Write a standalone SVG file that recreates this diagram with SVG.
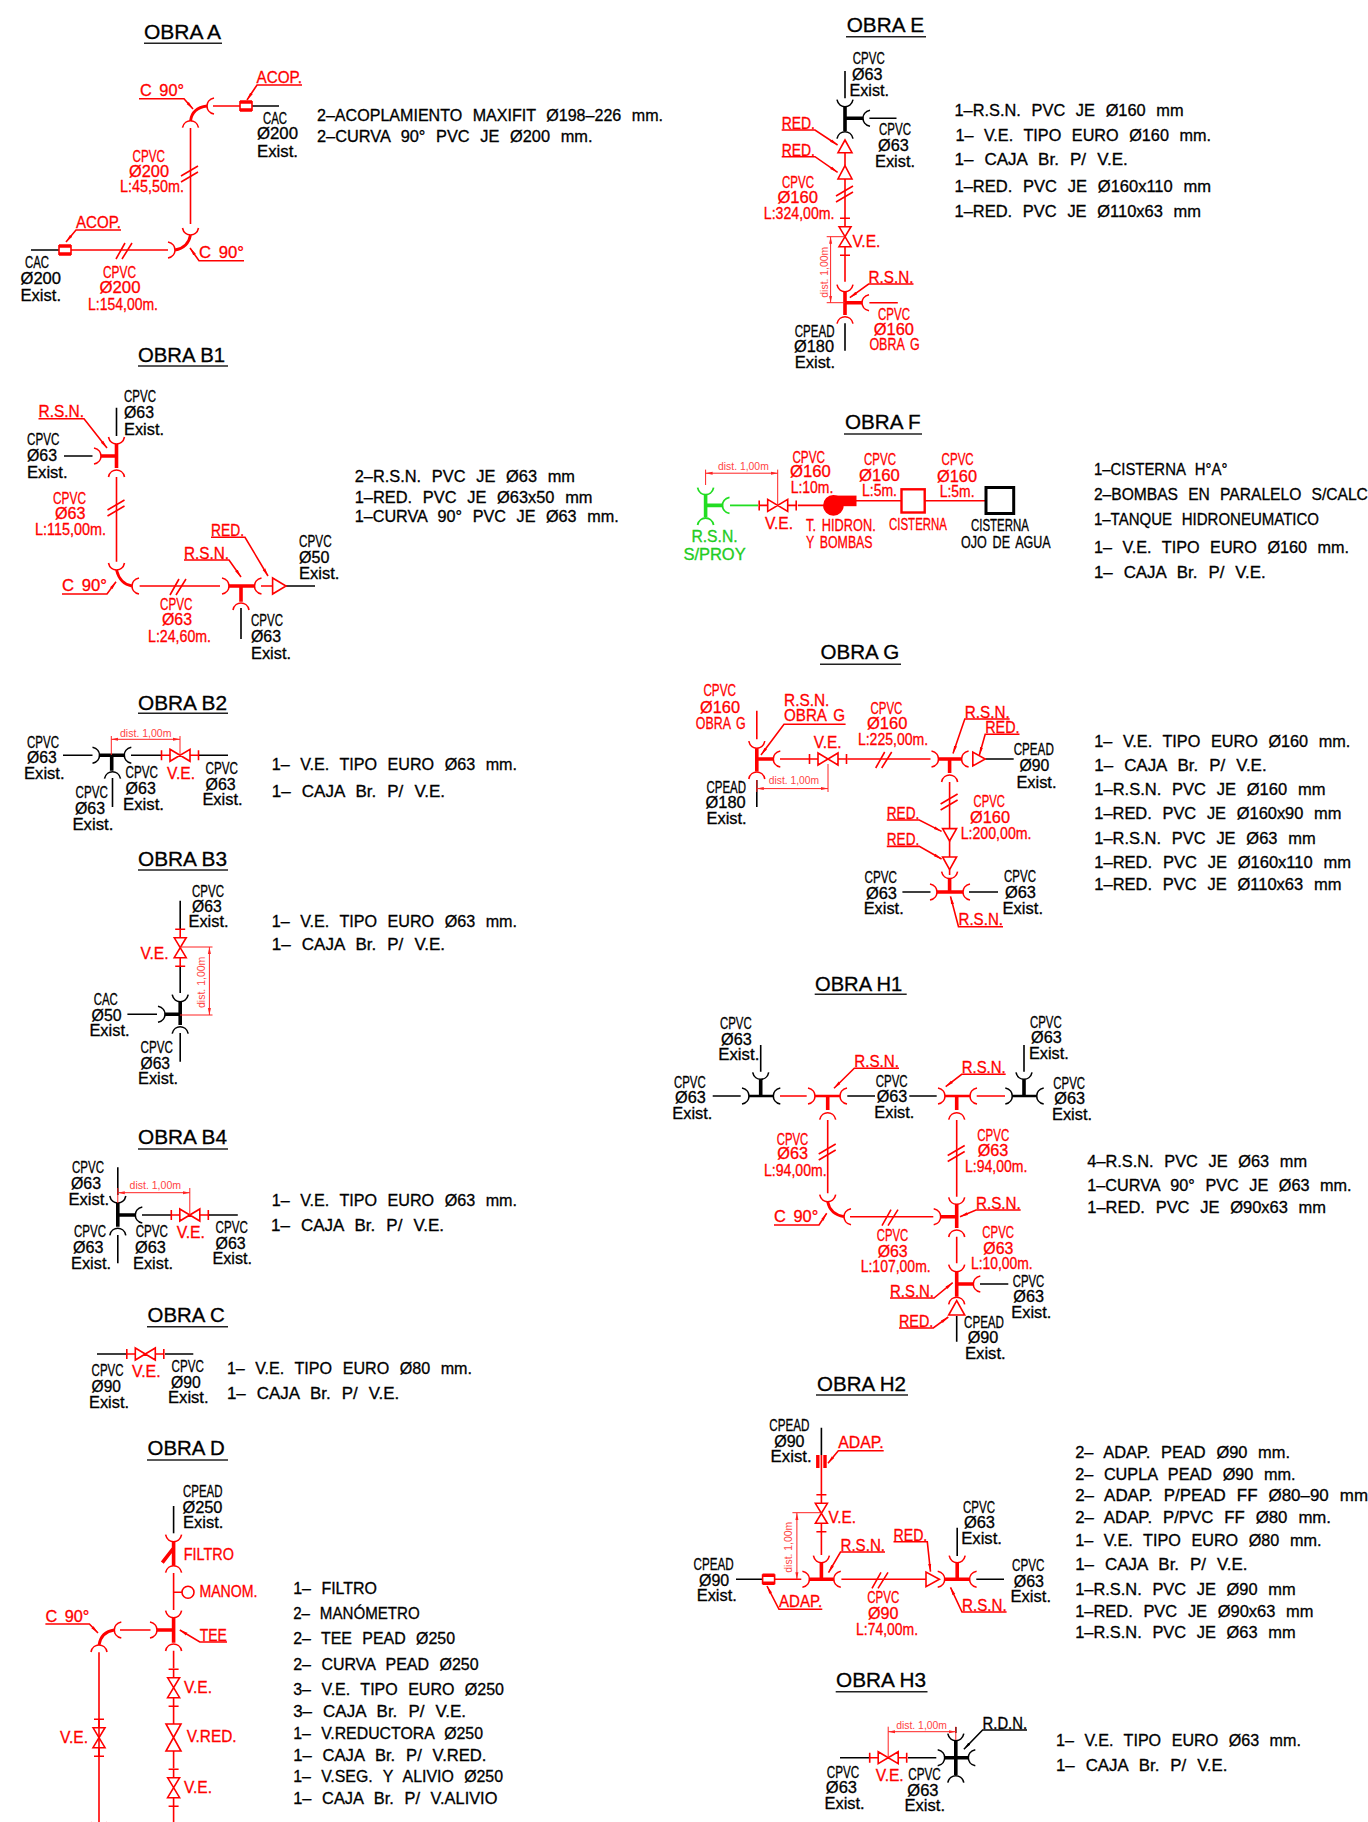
<svg xmlns="http://www.w3.org/2000/svg" width="1368" height="1822" viewBox="0 0 1368 1822">
<style>
text{font-family:"Liberation Sans",Arial,sans-serif;font-size:16px;stroke-width:.3px;word-spacing:3px}
.T{font-size:20px;stroke:none;word-spacing:0}
.q{word-spacing:6px}
.dt{font-size:10px;fill:#f44;stroke:none;word-spacing:0}
.tk{fill:#000;stroke:#000}.tr{fill:#f00;stroke:#f00}.tg{fill:#2c2;stroke:#2c2}
path,line,use,circle,rect,polygon{fill:none}
.r{stroke:#f00;stroke-width:1.6}.k{stroke:#000;stroke-width:1.6}.g{stroke:#2d2;stroke-width:1.8}
.t{stroke-width:3.6}.e{stroke-width:2.8}
.u{stroke:#222;stroke-width:1.6}
.d{stroke:#f22;stroke-width:1}
.dm{marker-start:url(#da);marker-end:url(#da)}
.ld{marker-end:url(#ah)}.lk{marker-end:url(#ak)}
</style>
<defs>
<marker id="ah" markerUnits="userSpaceOnUse" markerWidth="10" markerHeight="6" refX="8" refY="3" orient="auto"><path d="M0,1.5L8,3L0,4.5Z" style="fill:#f00"/></marker>
<marker id="ak" markerUnits="userSpaceOnUse" markerWidth="10" markerHeight="6" refX="8" refY="3" orient="auto"><path d="M0,1.5L8,3L0,4.5Z" style="fill:#000"/></marker>
<marker id="da" markerUnits="userSpaceOnUse" markerWidth="8" markerHeight="6" refX="7" refY="3" orient="auto-start-reverse"><path d="M0,1.5L7,3L0,4.5Z" style="fill:#f22"/></marker>
<path id="sr" d="M7,-8C2,-7 0,-3 0,0C0,3 2,7 7,8"/>
<path id="sl" d="M-7,-8C-2,-7 0,-3 0,0C0,3 -2,7 -7,8"/>
<path id="sd" d="M-8,7C-7,2 -3,0 0,0C3,0 7,2 8,7"/>
<path id="su" d="M-8,-7C-7,-2 -3,0 0,0C3,0 7,-2 8,-7"/>
<path id="vh" d="M-10,-6L10,6V-6L-10,6ZM-18.5,-5V5M18.5,-5V5M-18.5,0H-10M10,0H18.5"/>
<path id="vv" d="M-6,-10L6,10H-6L6,-10ZM-5,-18.5H5M-5,18.5H5M0,-18.5V-10M0,10V18.5"/>
<path id="bh" d="M-8,9L1,-7M-2,9L8,-7"/>
<path id="bv" d="M-9,2L8,-8M-9,8L8,-2"/>
<g id="c"><path d="M-6,-4H6M-6,4H6" stroke-width="3.6"/><path d="M-6,-5V5M6,-5V5"/></g>
</defs>

<g id="obra-a">
<text class="T tk" x="144" y="39.3" textLength="77" lengthAdjust="spacingAndGlyphs">OBRA A</text><path class="u" d="M144,43.3H222"/>
<g class="k"><path d="M252,106H279M31,250H59"/></g>
<g class="r"><path d="M213,106H240M190.5,128V224M168,250H71"/><use href="#sr" x="207" y="106"/><use href="#sd" x="190.5" y="120.7"/><use href="#su" x="190.5" y="235"/><use href="#sl" x="175" y="250"/><use href="#bv" x="190" y="174"/><use href="#bh" x="124" y="250"/><use href="#c" x="246" y="106"/><use href="#c" x="65" y="250"/><path class="e" d="M190.5,121Q192,108 207,106M190.5,235Q188,248 175,250"/>
<path class="ld" d="M139,98.7H184L193,109"/><path class="ld" d="M244,260.7H199L190,248"/><path class="ld" d="M302,85H257L247,100"/><path class="ld" d="M121,230H76L66,242"/></g>
<g class="tr"><text x="140" y="96" textLength="44" lengthAdjust="spacingAndGlyphs">C 90°</text><text x="199" y="257.7" textLength="45" lengthAdjust="spacingAndGlyphs">C 90°</text><text x="256.5" y="82.7" textLength="45.5" lengthAdjust="spacingAndGlyphs">ACOP.</text><text x="76" y="228.3" textLength="45" lengthAdjust="spacingAndGlyphs">ACOP.</text>
<text x="132.6" y="161.7" textLength="32.4" lengthAdjust="spacingAndGlyphs">CPVC</text><text x="129" y="176.7" textLength="40" lengthAdjust="spacingAndGlyphs">Ø200</text><text x="120" y="192.3" textLength="64" lengthAdjust="spacingAndGlyphs">L:45,50m.</text>
<text x="103" y="278.3" textLength="33" lengthAdjust="spacingAndGlyphs">CPVC</text><text x="99.5" y="293.3" textLength="41" lengthAdjust="spacingAndGlyphs">Ø200</text><text x="88" y="310" textLength="70" lengthAdjust="spacingAndGlyphs">L:154,00m.</text></g>
<g class="tk"><text x="263" y="124" textLength="24" lengthAdjust="spacingAndGlyphs">CAC</text><text x="257" y="139.3" textLength="41" lengthAdjust="spacingAndGlyphs">Ø200</text><text x="257" y="156.7" textLength="41" lengthAdjust="spacingAndGlyphs">Exist.</text>
<text x="25" y="268" textLength="24" lengthAdjust="spacingAndGlyphs">CAC</text><text x="20.5" y="284" textLength="40.5" lengthAdjust="spacingAndGlyphs">Ø200</text><text x="20.5" y="301" textLength="40.5" lengthAdjust="spacingAndGlyphs">Exist.</text>
<text class="q" x="317" y="120.7" textLength="346" lengthAdjust="spacingAndGlyphs">2–ACOPLAMIENTO MAXIFIT Ø198–226 mm.</text><text class="q" x="317" y="141.7" textLength="275.5" lengthAdjust="spacingAndGlyphs">2–CURVA 90° PVC JE Ø200 mm.</text></g>
</g>

<g id="obra-b1">
<text class="T tk" x="138" y="361.7" textLength="87" lengthAdjust="spacingAndGlyphs">OBRA B1</text><path class="u" d="M138,366H228"/>
<g class="k"><path d="M116.5,407.7V436M64,456H92.5M241,608V639M286,586H315"/></g>
<g class="r"><path d="M116.5,477V561.7M139.6,586H220M261,586H272.6"/><use href="#su" x="116.5" y="444"/><use href="#sl" x="101" y="456"/><use href="#sd" x="116.5" y="470"/><use href="#su" x="116.5" y="570"/><use href="#sr" x="132" y="586"/><use href="#sl" x="229" y="586"/><use href="#sd" x="241" y="603"/><use href="#sr" x="254.5" y="586"/><use href="#bv" x="116.5" y="508"/><use href="#bh" x="178" y="586"/>
<path class="t" d="M116.5,444V468M116.5,456H101M229,586H254M241,586V601.7"/><path class="e" d="M116.5,570Q120,584 132,586"/><polygon points="272.6,578 272.6,594 286,586"/>
<path class="ld" d="M38.5,418.7H84L107,448"/><path class="ld" d="M62,594H107L116,581.7"/><path class="ld" d="M184,560H229L241,577"/><path class="ld" d="M211,537.3H245L268,576"/></g>
<g class="tr"><text x="38.5" y="417.3" textLength="45.5" lengthAdjust="spacingAndGlyphs">R.S.N.</text><text x="62" y="590.7" textLength="45" lengthAdjust="spacingAndGlyphs">C 90°</text><text x="184" y="559" textLength="45" lengthAdjust="spacingAndGlyphs">R.S.N.</text><text x="211" y="536" textLength="33" lengthAdjust="spacingAndGlyphs">RED.</text>
<text x="53" y="504" textLength="33" lengthAdjust="spacingAndGlyphs">CPVC</text><text x="55" y="519" textLength="30.5" lengthAdjust="spacingAndGlyphs">Ø63</text><text x="35" y="535.3" textLength="71" lengthAdjust="spacingAndGlyphs">L:115,00m.</text>
<text x="160" y="610" textLength="32.4" lengthAdjust="spacingAndGlyphs">CPVC</text><text x="162" y="625" textLength="30" lengthAdjust="spacingAndGlyphs">Ø63</text><text x="148" y="641.7" textLength="63" lengthAdjust="spacingAndGlyphs">L:24,60m.</text></g>
<g class="tk"><text x="124" y="401.7" textLength="32" lengthAdjust="spacingAndGlyphs">CPVC</text><text x="124" y="417.7" textLength="30" lengthAdjust="spacingAndGlyphs">Ø63</text><text x="124" y="435" textLength="40" lengthAdjust="spacingAndGlyphs">Exist.</text>
<text x="27" y="445" textLength="32.3" lengthAdjust="spacingAndGlyphs">CPVC</text><text x="27" y="460.7" textLength="30" lengthAdjust="spacingAndGlyphs">Ø63</text><text x="27" y="477.7" textLength="40.6" lengthAdjust="spacingAndGlyphs">Exist.</text>
<text x="299" y="546.7" textLength="32.6" lengthAdjust="spacingAndGlyphs">CPVC</text><text x="299" y="562.7" textLength="30.4" lengthAdjust="spacingAndGlyphs">Ø50</text><text x="299" y="579.3" textLength="40.4" lengthAdjust="spacingAndGlyphs">Exist.</text>
<text x="251" y="626" textLength="32" lengthAdjust="spacingAndGlyphs">CPVC</text><text x="251" y="641.7" textLength="30" lengthAdjust="spacingAndGlyphs">Ø63</text><text x="251" y="659" textLength="40" lengthAdjust="spacingAndGlyphs">Exist.</text>
<text class="q" x="354.7" y="481.7" textLength="220.3" lengthAdjust="spacingAndGlyphs">2–R.S.N. PVC JE Ø63 mm</text><text class="q" x="354.7" y="502.7" textLength="237.8" lengthAdjust="spacingAndGlyphs">1–RED. PVC JE Ø63x50 mm</text><text class="q" x="354.7" y="522" textLength="264" lengthAdjust="spacingAndGlyphs">1–CURVA 90° PVC JE Ø63 mm.</text></g>
</g>

<g id="obra-b2">
<text class="T tk" x="138" y="710" textLength="89" lengthAdjust="spacingAndGlyphs">OBRA B2</text><path class="u" d="M138,713.3H228"/>
<g class="k"><path d="M63,755.3H92.5M112.5,778V807M131,755.3H161M198.5,755.3H228"/><use href="#sl" x="99.5" y="755.3"/><use href="#sd" x="112.5" y="771.7"/><use href="#sr" x="124.3" y="755.3"/><path class="t" d="M99.5,755.3H124.3M111.7,755.3V770.7"/></g>
<g class="r"><use href="#vh" x="180" y="755.3"/></g>
<g class="d"><path class="dm" d="M111.3,739.3H180"/><path d="M111.3,736V755M180,736V755"/></g>
<text class="dt" x="120" y="736.7" textLength="51.5" lengthAdjust="spacingAndGlyphs">dist. 1,00m</text>
<g class="tr"><text x="167" y="779" textLength="28" lengthAdjust="spacingAndGlyphs">V.E.</text></g>
<g class="tk"><text x="27" y="747.7" textLength="32" lengthAdjust="spacingAndGlyphs">CPVC</text><text x="27" y="763.3" textLength="29.7" lengthAdjust="spacingAndGlyphs">Ø63</text><text x="24" y="779" textLength="40.6" lengthAdjust="spacingAndGlyphs">Exist.</text>
<text x="125.6" y="778.3" textLength="32.4" lengthAdjust="spacingAndGlyphs">CPVC</text><text x="125.6" y="794.3" textLength="30.2" lengthAdjust="spacingAndGlyphs">Ø63</text><text x="123" y="810" textLength="41" lengthAdjust="spacingAndGlyphs">Exist.</text>
<text x="75.5" y="798.3" textLength="32.3" lengthAdjust="spacingAndGlyphs">CPVC</text><text x="75" y="814" textLength="30" lengthAdjust="spacingAndGlyphs">Ø63</text><text x="72.4" y="829.7" textLength="41" lengthAdjust="spacingAndGlyphs">Exist.</text>
<text x="205.5" y="774" textLength="32.5" lengthAdjust="spacingAndGlyphs">CPVC</text><text x="205.5" y="790" textLength="30.1" lengthAdjust="spacingAndGlyphs">Ø63</text><text x="202.4" y="805.3" textLength="40.2" lengthAdjust="spacingAndGlyphs">Exist.</text>
<text class="q" x="271.8" y="770" textLength="245.2" lengthAdjust="spacingAndGlyphs">1– V.E. TIPO EURO Ø63 mm.</text><text class="q" x="271.8" y="796.7" textLength="173.2" lengthAdjust="spacingAndGlyphs">1– CAJA Br. P/ V.E.</text></g>
</g>

<g id="obra-b3">
<text class="T tk" x="138" y="865.7" textLength="89" lengthAdjust="spacingAndGlyphs">OBRA B3</text><path class="u" d="M138,870H228"/>
<g class="k"><path d="M180.2,900.7V929M180.2,966.7V993M180.2,1033V1061.7M127.4,1014.3H157"/><use href="#su" x="180.2" y="1001.7"/><use href="#sd" x="180.2" y="1026.7"/><use href="#sl" x="165" y="1014.3"/><path class="t" d="M180.2,1001.7V1025M180.2,1014.3H165"/></g>
<g class="r"><use href="#vv" x="180.2" y="947.7"/></g>
<g class="d"><path class="dm" d="M209.4,947V1015"/><path d="M180,947H212.5M180,1015H212.5"/></g>
<text class="dt" transform="translate(205,1008) rotate(-90)" x="0" y="0" textLength="51.3" lengthAdjust="spacingAndGlyphs">dist. 1,00m</text>
<g class="tr"><text x="140.5" y="958.7" textLength="28" lengthAdjust="spacingAndGlyphs">V.E.</text></g>
<g class="tk"><text x="192" y="896.7" textLength="32" lengthAdjust="spacingAndGlyphs">CPVC</text><text x="192" y="912" textLength="29.6" lengthAdjust="spacingAndGlyphs">Ø63</text><text x="188.5" y="927.3" textLength="40" lengthAdjust="spacingAndGlyphs">Exist.</text>
<text x="93.8" y="1005" textLength="24" lengthAdjust="spacingAndGlyphs">CAC</text><text x="91.6" y="1020.7" textLength="30" lengthAdjust="spacingAndGlyphs">Ø50</text><text x="89.4" y="1036" textLength="40.2" lengthAdjust="spacingAndGlyphs">Exist.</text>
<text x="140.5" y="1053.3" textLength="32.3" lengthAdjust="spacingAndGlyphs">CPVC</text><text x="140.5" y="1069.3" textLength="29.5" lengthAdjust="spacingAndGlyphs">Ø63</text><text x="138" y="1084" textLength="40" lengthAdjust="spacingAndGlyphs">Exist.</text>
<text class="q" x="271.8" y="926.7" textLength="245.2" lengthAdjust="spacingAndGlyphs">1– V.E. TIPO EURO Ø63 mm.</text><text class="q" x="271.8" y="950" textLength="173.2" lengthAdjust="spacingAndGlyphs">1– CAJA Br. P/ V.E.</text></g>
</g>

<g id="obra-b4">
<text class="T tk" x="138" y="1144.3" textLength="89" lengthAdjust="spacingAndGlyphs">OBRA B4</text><path class="u" d="M138,1149H228"/>
<g class="k"><path d="M117.8,1167.3V1195M142,1215H171M208.3,1215H237.8M117.8,1235V1263.3"/><use href="#su" x="117.8" y="1203"/><use href="#sr" x="135.3" y="1215"/><use href="#sd" x="117.8" y="1228.3"/><path class="t" d="M117.8,1203V1226.7M117.8,1215H135.3"/></g>
<g class="r"><use href="#vh" x="189.8" y="1215"/></g>
<g class="d"><path class="dm" d="M117.8,1192.7H189.8"/><path d="M117.8,1188V1203M189.8,1188V1215"/></g>
<text class="dt" x="129.6" y="1189.3" textLength="51.4" lengthAdjust="spacingAndGlyphs">dist. 1,00m</text>
<g class="tr"><text x="176.7" y="1238.3" textLength="28.3" lengthAdjust="spacingAndGlyphs">V.E.</text></g>
<g class="tk"><text x="72" y="1173.3" textLength="32" lengthAdjust="spacingAndGlyphs">CPVC</text><text x="71" y="1189.3" textLength="30" lengthAdjust="spacingAndGlyphs">Ø63</text><text x="68.5" y="1205" textLength="40.5" lengthAdjust="spacingAndGlyphs">Exist.</text>
<text x="74" y="1237.3" textLength="32" lengthAdjust="spacingAndGlyphs">CPVC</text><text x="73" y="1253.3" textLength="30.4" lengthAdjust="spacingAndGlyphs">Ø63</text><text x="71" y="1269" textLength="40" lengthAdjust="spacingAndGlyphs">Exist.</text>
<text x="135.7" y="1237.3" textLength="32.3" lengthAdjust="spacingAndGlyphs">CPVC</text><text x="135" y="1253.3" textLength="30.8" lengthAdjust="spacingAndGlyphs">Ø63</text><text x="133" y="1269" textLength="40" lengthAdjust="spacingAndGlyphs">Exist.</text>
<text x="215.5" y="1233.3" textLength="32.3" lengthAdjust="spacingAndGlyphs">CPVC</text><text x="215.5" y="1249" textLength="30.1" lengthAdjust="spacingAndGlyphs">Ø63</text><text x="212.5" y="1264.3" textLength="39.5" lengthAdjust="spacingAndGlyphs">Exist.</text>
<text class="q" x="271.8" y="1205.7" textLength="245.2" lengthAdjust="spacingAndGlyphs">1– V.E. TIPO EURO Ø63 mm.</text><text class="q" x="271" y="1230.7" textLength="173" lengthAdjust="spacingAndGlyphs">1– CAJA Br. P/ V.E.</text></g>
</g>

<g id="obra-c">
<text class="T tk" x="147.5" y="1322.3" textLength="77.2" lengthAdjust="spacingAndGlyphs">OBRA C</text><path class="u" d="M147,1326.7H228"/>
<g class="k"><path d="M97,1354H126M165,1354H193.3"/></g>
<g class="r"><use href="#vh" x="145.3" y="1354"/></g>
<g class="tr"><text x="132" y="1376.7" textLength="28.6" lengthAdjust="spacingAndGlyphs">V.E.</text></g>
<g class="tk"><text x="91.6" y="1376" textLength="31.9" lengthAdjust="spacingAndGlyphs">CPVC</text><text x="91.6" y="1392" textLength="29.3" lengthAdjust="spacingAndGlyphs">Ø90</text><text x="89" y="1407.7" textLength="40" lengthAdjust="spacingAndGlyphs">Exist.</text>
<text x="171.5" y="1371.7" textLength="32.3" lengthAdjust="spacingAndGlyphs">CPVC</text><text x="171" y="1387.7" textLength="29.7" lengthAdjust="spacingAndGlyphs">Ø90</text><text x="168" y="1403.3" textLength="40.6" lengthAdjust="spacingAndGlyphs">Exist.</text>
<text class="q" x="226.9" y="1374.3" textLength="245.1" lengthAdjust="spacingAndGlyphs">1– V.E. TIPO EURO Ø80 mm.</text><text class="q" x="226.9" y="1399.3" textLength="172.3" lengthAdjust="spacingAndGlyphs">1– CAJA Br. P/ V.E.</text></g>
</g>

<g id="obra-d">
<text class="T tk" x="147.5" y="1455" textLength="77.2" lengthAdjust="spacingAndGlyphs">OBRA D</text><path class="u" d="M147,1460H228"/>
<g class="k"><path d="M173.6,1506V1533.3"/></g>
<g class="r"><use href="#su" x="173.6" y="1541.7"/><use href="#sd" x="173.6" y="1565.7"/><path d="M173.6,1573V1610M173.6,1592.3H182M120,1630H150.5M99,1652.3V1822M173.6,1650.7V1668.3M173.6,1706.7V1724M173.6,1751V1768.3M173.6,1806.7V1822"/><circle cx="188" cy="1592.3" r="6"/><use href="#su" x="173.6" y="1617.7"/><use href="#sd" x="173.6" y="1644"/><use href="#sl" x="157" y="1630"/><use href="#sr" x="114.3" y="1630"/><use href="#sd" x="99" y="1645"/><use href="#su" x="99" y="1829"/>
<path class="t" d="M173.6,1541.7V1565.7M173.6,1548L162.3,1562.7M173.6,1617.7V1642.7M173.6,1630H157"/><path class="e" d="M114.3,1630Q101,1632 99,1645"/>
<use href="#vv" x="99" y="1737.7"/><use href="#vv" x="173.6" y="1687.7"/><use href="#vv" x="173.6" y="1787.7"/><path d="M166,1724H181L166,1751H181Z"/>
<path class="ld" d="M45.4,1624H89.4L98,1633"/><path class="ld" d="M227,1642H199.8L179.8,1630"/></g>
<g class="tr"><text x="183.7" y="1560" textLength="50.2" lengthAdjust="spacingAndGlyphs">FILTRO</text><text x="199.4" y="1597.3" textLength="58" lengthAdjust="spacingAndGlyphs">MANOM.</text><text x="45.4" y="1621.7" textLength="44" lengthAdjust="spacingAndGlyphs">C 90°</text><text x="199.8" y="1640.7" textLength="27.1" lengthAdjust="spacingAndGlyphs">TEE</text><text x="184" y="1693.3" textLength="28" lengthAdjust="spacingAndGlyphs">V.E.</text><text x="186.7" y="1741.7" textLength="49.8" lengthAdjust="spacingAndGlyphs">V.RED.</text><text x="184" y="1793.3" textLength="28" lengthAdjust="spacingAndGlyphs">V.E.</text><text x="60" y="1743.3" textLength="28" lengthAdjust="spacingAndGlyphs">V.E.</text></g>
<g class="tk"><text x="183" y="1497.3" textLength="39.5" lengthAdjust="spacingAndGlyphs">CPEAD</text><text x="182.4" y="1512.7" textLength="40.1" lengthAdjust="spacingAndGlyphs">Ø250</text><text x="183" y="1528.3" textLength="40.4" lengthAdjust="spacingAndGlyphs">Exist.</text>
<text class="q" x="293.2" y="1594" textLength="83.8" lengthAdjust="spacingAndGlyphs">1– FILTRO</text><text class="q" x="293.2" y="1619" textLength="126.5" lengthAdjust="spacingAndGlyphs">2– MANÓMETRO</text><text class="q" x="293.2" y="1644.3" textLength="161.8" lengthAdjust="spacingAndGlyphs">2– TEE PEAD Ø250</text><text class="q" x="293.2" y="1670" textLength="185.4" lengthAdjust="spacingAndGlyphs">2– CURVA PEAD Ø250</text><text class="q" x="293.2" y="1695.3" textLength="210.8" lengthAdjust="spacingAndGlyphs">3– V.E. TIPO EURO Ø250</text><text class="q" x="293.2" y="1717.3" textLength="172.8" lengthAdjust="spacingAndGlyphs">3– CAJA Br. P/ V.E.</text><text class="q" x="293.2" y="1739" textLength="189.8" lengthAdjust="spacingAndGlyphs">1– V.REDUCTORA Ø250</text><text class="q" x="293.2" y="1760.7" textLength="193.3" lengthAdjust="spacingAndGlyphs">1– CAJA Br. P/ V.RED.</text><text class="q" x="293.2" y="1782.3" textLength="209.8" lengthAdjust="spacingAndGlyphs">1– V.SEG. Y ALIVIO Ø250</text><text class="q" x="293.2" y="1804.3" textLength="204.2" lengthAdjust="spacingAndGlyphs">1– CAJA Br. P/ V.ALIVIO</text></g>
</g>

<g id="obra-e">
<text class="T tk" x="846.7" y="32.3" textLength="77.3" lengthAdjust="spacingAndGlyphs">OBRA E</text><path class="u" d="M846,36.7H926"/>
<g class="k"><path d="M845,71V98.3M869.4,118.3H896.5M845,323.3V350.7"/><use href="#su" x="845" y="106.7"/><use href="#sr" x="863" y="118.3"/><use href="#sd" x="845" y="131.7"/><path class="t" d="M845,106.7V131M845,118.3H863"/></g>
<g class="r"><polygon points="845,140 838,152.7 852,152.7"/><polygon points="845,165.7 838,179 852,179"/><path d="M845,152.7V165.7M845,179V218M845,255.7V281.7M869.4,302.7H897.8"/><use href="#bv" x="845" y="194"/><use href="#vv" x="845" y="236.7"/><use href="#su" x="845" y="291.7"/><use href="#sr" x="862" y="302.7"/><use href="#sd" x="845" y="316.7"/><path class="t" d="M845,291.7V315M845,302.7H862"/>
<path class="ld" d="M781.7,130H815L837.6,145"/><path class="ld" d="M781.7,156.7H815L837.6,172.3"/><path class="ld" d="M913.5,284H868.6L849.8,297.7"/></g>
<g class="d"><path class="dm" d="M830.6,236.7V302.7"/><path d="M826.7,236.7H845M826.7,302.7H845"/></g>
<text class="dt" transform="translate(827.5,297.7) rotate(-90)" x="0" y="0" textLength="51" lengthAdjust="spacingAndGlyphs">dist. 1,00m</text>
<g class="tr"><text x="781.7" y="129" textLength="33.3" lengthAdjust="spacingAndGlyphs">RED.</text><text x="781.7" y="155.7" textLength="33.3" lengthAdjust="spacingAndGlyphs">RED.</text>
<text x="782" y="188.3" textLength="32" lengthAdjust="spacingAndGlyphs">CPVC</text><text x="777.4" y="203.3" textLength="40.6" lengthAdjust="spacingAndGlyphs">Ø160</text><text x="763.8" y="219.3" textLength="70.7" lengthAdjust="spacingAndGlyphs">L:324,00m.</text>
<text x="852.4" y="247.3" textLength="27.9" lengthAdjust="spacingAndGlyphs">V.E.</text><text x="868.6" y="282.7" textLength="44.9" lengthAdjust="spacingAndGlyphs">R.S.N.</text>
<text x="878" y="320" textLength="32" lengthAdjust="spacingAndGlyphs">CPVC</text><text x="873.8" y="335" textLength="40.2" lengthAdjust="spacingAndGlyphs">Ø160</text><text x="869.4" y="350" textLength="50.2" lengthAdjust="spacingAndGlyphs">OBRA G</text></g>
<g class="tk"><text x="852.8" y="64.3" textLength="31.9" lengthAdjust="spacingAndGlyphs">CPVC</text><text x="852" y="80" textLength="30.5" lengthAdjust="spacingAndGlyphs">Ø63</text><text x="849.4" y="95.7" textLength="39.6" lengthAdjust="spacingAndGlyphs">Exist.</text>
<text x="879" y="135" textLength="32" lengthAdjust="spacingAndGlyphs">CPVC</text><text x="878" y="151" textLength="30.7" lengthAdjust="spacingAndGlyphs">Ø63</text><text x="875" y="166.7" textLength="40" lengthAdjust="spacingAndGlyphs">Exist.</text>
<text x="794.8" y="336.7" textLength="39.7" lengthAdjust="spacingAndGlyphs">CPEAD</text><text x="794" y="352.3" textLength="40" lengthAdjust="spacingAndGlyphs">Ø180</text><text x="794.8" y="367.7" textLength="40.2" lengthAdjust="spacingAndGlyphs">Exist.</text>
<text class="q" x="954.5" y="116" textLength="229.1" lengthAdjust="spacingAndGlyphs">1–R.S.N. PVC JE Ø160 mm</text><text class="q" x="955.4" y="140.7" textLength="255.6" lengthAdjust="spacingAndGlyphs">1– V.E. TIPO EURO Ø160 mm.</text><text class="q" x="954.5" y="165" textLength="173.2" lengthAdjust="spacingAndGlyphs">1– CAJA Br. P/ V.E.</text><text class="q" x="954.5" y="192.3" textLength="256.5" lengthAdjust="spacingAndGlyphs">1–RED. PVC JE Ø160x110 mm</text><text class="q" x="954.5" y="217.3" textLength="246.5" lengthAdjust="spacingAndGlyphs">1–RED. PVC JE Ø110x63 mm</text></g>
</g>

<g id="obra-f">
<text class="T tk" x="845" y="429.3" textLength="75.7" lengthAdjust="spacingAndGlyphs">OBRA F</text><path class="u" d="M844,434H922"/>
<g class="g"><use href="#su" x="705.6" y="494.6"/><use href="#sd" x="705.6" y="518"/><use href="#sr" x="722.5" y="505.4"/><path d="M730,505.4H758"/><path class="t" d="M705.6,494.6V517M705.6,505.4H722.5"/></g>
<g class="r"><use href="#vh" x="777.7" y="505.4"/><path d="M797.8,505.4H824M855.7,500.7H901.5M924.7,500.7H985.2"/><circle cx="833.4" cy="505.4" r="9.5" style="fill:#f00"/><rect x="833.4" y="496.4" width="22.3" height="9" style="fill:#f00"/><rect x="901.5" y="489.3" width="23.2" height="23.2" stroke-width="2.4"/></g>
<g class="k"><rect x="986" y="487.5" width="27.7" height="26" stroke-width="3"/></g>
<g class="d"><path class="dm" d="M705.6,473.2H777.7"/><path d="M705.6,469.6V485M777.7,469.6V505"/></g>
<text class="dt" x="718" y="469.6" textLength="50.8" lengthAdjust="spacingAndGlyphs">dist. 1,00m</text>
<g class="tr"><text x="792.4" y="462.5" textLength="32.6" lengthAdjust="spacingAndGlyphs">CPVC</text><text x="790" y="476.8" textLength="40.7" lengthAdjust="spacingAndGlyphs">Ø160</text><text x="790.7" y="492.9" textLength="42.7" lengthAdjust="spacingAndGlyphs">L:10m.</text>
<text x="864" y="465" textLength="32" lengthAdjust="spacingAndGlyphs">CPVC</text><text x="859" y="481.4" textLength="40.7" lengthAdjust="spacingAndGlyphs">Ø160</text><text x="862" y="496.4" textLength="35" lengthAdjust="spacingAndGlyphs">L:5m.</text>
<text x="941.6" y="465.4" textLength="32.1" lengthAdjust="spacingAndGlyphs">CPVC</text><text x="937" y="482" textLength="40" lengthAdjust="spacingAndGlyphs">Ø160</text><text x="939.8" y="497" textLength="34.7" lengthAdjust="spacingAndGlyphs">L:5m.</text>
<text x="765" y="529.3" textLength="28" lengthAdjust="spacingAndGlyphs">V.E.</text><text x="806" y="531.4" textLength="69.7" lengthAdjust="spacingAndGlyphs">T. HIDRON.</text><text x="806" y="547.5" textLength="66.6" lengthAdjust="spacingAndGlyphs">Y BOMBAS</text><text x="889" y="530.4" textLength="58" lengthAdjust="spacingAndGlyphs">CISTERNA</text></g>
<g class="tg"><text x="691.4" y="542" textLength="46.3" lengthAdjust="spacingAndGlyphs">R.S.N.</text><text x="683.4" y="559.6" textLength="62.3" lengthAdjust="spacingAndGlyphs">S/PROY</text></g>
<g class="tk"><text x="971" y="531" textLength="57.9" lengthAdjust="spacingAndGlyphs">CISTERNA</text><text x="961" y="547.5" textLength="89.7" lengthAdjust="spacingAndGlyphs">OJO DE AGUA</text>
<text class="q" x="1093.9" y="475" textLength="133.5" lengthAdjust="spacingAndGlyphs">1–CISTERNA H°A°</text><text class="q" x="1093.9" y="500" textLength="274" lengthAdjust="spacingAndGlyphs">2–BOMBAS EN PARALELO S/CALC</text><text class="q" x="1093.9" y="525" textLength="225.1" lengthAdjust="spacingAndGlyphs">1–TANQUE HIDRONEUMATICO</text><text class="q" x="1093.9" y="552.9" textLength="255.1" lengthAdjust="spacingAndGlyphs">1– V.E. TIPO EURO Ø160 mm.</text><text class="q" x="1093.9" y="577.9" textLength="171.8" lengthAdjust="spacingAndGlyphs">1– CAJA Br. P/ V.E.</text></g>
</g>

<g id="obra-g">
<text class="T tk" x="820.5" y="659" textLength="78.8" lengthAdjust="spacingAndGlyphs">OBRA G</text><path class="u" d="M820,664.3H901"/>
<g class="k"><path d="M756.8,780V807M902.4,892H930.5M969,892H998M985.2,759H1013.7"/></g>
<g class="r"><path d="M756.8,710.7V739.3M780,759H809M847.2,759H930.5M949.6,782V828.6M949.6,841V857M949.6,869.6V875"/><use href="#su" x="756.8" y="748.2"/><use href="#sd" x="756.8" y="772"/><use href="#sr" x="773.3" y="759"/><use href="#vh" x="828" y="759"/><use href="#bh" x="883.7" y="759"/><use href="#sl" x="938.5" y="759"/><use href="#sr" x="961.6" y="759"/><polygon points="972.8,752 972.8,766 985.2,759"/><use href="#sd" x="949.6" y="775"/><use href="#bv" x="949.6" y="802"/><polygon points="942.6,828.6 956.6,828.6 949.6,841"/><polygon points="942.6,857 956.6,857 949.6,869.6"/><use href="#su" x="949.6" y="878.6"/><use href="#sl" x="937" y="892"/><use href="#sr" x="963" y="892"/>
<path class="t" d="M756.8,748.2V771.4M756.8,759H773.3M938.5,759H961.6M949.6,759V773M949.6,878.6V892M937,892H963"/>
<path class="ld" d="M845.6,724.3H784L761,755"/><path class="ld" d="M1009.7,719H964.8L953,753.6"/><path class="ld" d="M1019.5,734.3H985.2L979.4,755"/><path class="ld" d="M886.8,820H919.3L941.6,831.4"/><path class="ld" d="M886.8,846.4H919.3L941.6,859"/><path class="ld" d="M1003,926.8H958.5L950.5,896.4"/></g>
<g class="d"><path class="dm" d="M756.8,788.6H828"/><path d="M756.8,780V792M828,764V792"/></g>
<text class="dt" x="768.8" y="784" textLength="50.2" lengthAdjust="spacingAndGlyphs">dist. 1,00m</text>
<g class="tr"><text x="703.4" y="696.4" textLength="32.6" lengthAdjust="spacingAndGlyphs">CPVC</text><text x="700" y="712.5" textLength="40" lengthAdjust="spacingAndGlyphs">Ø160</text><text x="695.8" y="729.3" textLength="49.9" lengthAdjust="spacingAndGlyphs">OBRA G</text>
<text x="784" y="706.4" textLength="45.4" lengthAdjust="spacingAndGlyphs">R.S.N.</text><text x="784" y="720.7" textLength="61" lengthAdjust="spacingAndGlyphs">OBRA G</text>
<text x="870.4" y="714.3" textLength="32" lengthAdjust="spacingAndGlyphs">CPVC</text><text x="867" y="728.6" textLength="40.3" lengthAdjust="spacingAndGlyphs">Ø160</text><text x="857.9" y="745.4" textLength="70.3" lengthAdjust="spacingAndGlyphs">L:225,00m.</text>
<text x="813.8" y="747.5" textLength="27.6" lengthAdjust="spacingAndGlyphs">V.E.</text><text x="964.8" y="717.9" textLength="44.9" lengthAdjust="spacingAndGlyphs">R.S.N.</text><text x="985.2" y="733" textLength="34.3" lengthAdjust="spacingAndGlyphs">RED.</text>
<text x="973.6" y="807" textLength="31.2" lengthAdjust="spacingAndGlyphs">CPVC</text><text x="970" y="822.5" textLength="40" lengthAdjust="spacingAndGlyphs">Ø160</text><text x="960.7" y="839.3" textLength="70.8" lengthAdjust="spacingAndGlyphs">L:200,00m.</text>
<text x="886.8" y="818.6" textLength="32.5" lengthAdjust="spacingAndGlyphs">RED.</text><text x="886.8" y="845" textLength="32.5" lengthAdjust="spacingAndGlyphs">RED.</text><text x="958.5" y="925" textLength="44.5" lengthAdjust="spacingAndGlyphs">R.S.N.</text></g>
<g class="tk"><text x="1013.7" y="755.4" textLength="40.1" lengthAdjust="spacingAndGlyphs">CPEAD</text><text x="1019.5" y="771.4" textLength="29.8" lengthAdjust="spacingAndGlyphs">Ø90</text><text x="1016.4" y="787.5" textLength="40.1" lengthAdjust="spacingAndGlyphs">Exist.</text>
<text x="706.5" y="792.9" textLength="39.5" lengthAdjust="spacingAndGlyphs">CPEAD</text><text x="705.6" y="808.2" textLength="40.1" lengthAdjust="spacingAndGlyphs">Ø180</text><text x="706.5" y="824.3" textLength="40.1" lengthAdjust="spacingAndGlyphs">Exist.</text>
<text x="864.6" y="882.9" textLength="32.4" lengthAdjust="spacingAndGlyphs">CPVC</text><text x="866" y="899" textLength="31" lengthAdjust="spacingAndGlyphs">Ø63</text><text x="863.7" y="914.3" textLength="40" lengthAdjust="spacingAndGlyphs">Exist.</text>
<text x="1004" y="882" textLength="32" lengthAdjust="spacingAndGlyphs">CPVC</text><text x="1005" y="898" textLength="31" lengthAdjust="spacingAndGlyphs">Ø63</text><text x="1002.6" y="913.6" textLength="40.4" lengthAdjust="spacingAndGlyphs">Exist.</text>
<text class="q" x="1094.3" y="747" textLength="256" lengthAdjust="spacingAndGlyphs">1– V.E. TIPO EURO Ø160 mm.</text><text class="q" x="1094.3" y="771.4" textLength="172.3" lengthAdjust="spacingAndGlyphs">1– CAJA Br. P/ V.E.</text><text class="q" x="1094.3" y="794.6" textLength="231.1" lengthAdjust="spacingAndGlyphs">1–R.S.N. PVC JE Ø160 mm</text><text class="q" x="1094.3" y="819" textLength="247.1" lengthAdjust="spacingAndGlyphs">1–RED. PVC JE Ø160x90 mm</text><text class="q" x="1094.3" y="843.6" textLength="221.3" lengthAdjust="spacingAndGlyphs">1–R.S.N. PVC JE Ø63 mm</text><text class="q" x="1094.3" y="867.9" textLength="256.7" lengthAdjust="spacingAndGlyphs">1–RED. PVC JE Ø160x110 mm</text><text class="q" x="1094.3" y="890" textLength="247.1" lengthAdjust="spacingAndGlyphs">1–RED. PVC JE Ø110x63 mm</text></g>
</g>

<g id="obra-h1">
<text class="T tk" x="815" y="991" textLength="87.3" lengthAdjust="spacingAndGlyphs">OBRA H1</text><path class="u" d="M814.7,994.3H906.7"/>
<g class="k"><path d="M760.7,1045V1071.7M712.7,1096H740.7M847.3,1096H875M909.3,1096H936.7M1024,1045V1071.7M980,1284H1008.3M956.7,1316V1341.7"/><use href="#su" x="760.7" y="1079.3"/><use href="#sl" x="749" y="1096"/><use href="#sr" x="773.3" y="1096"/><use href="#su" x="1024" y="1079.3"/><use href="#sl" x="1012.3" y="1096"/><use href="#sr" x="1036.7" y="1096"/><path class="t" d="M760.7,1079.3V1096M1024,1079.3V1096"/><path stroke-width="2.6" d="M749,1096H773.3M1012.3,1096H1036.7"/></g>
<g class="r"><path d="M780,1096H806.7M976.7,1096H1005M827.7,1120V1193.3M850,1216.7H933.3M956.7,1120V1196.7M956.7,1236.7V1263.3"/><use href="#sl" x="815" y="1096"/><use href="#sr" x="840" y="1096"/><use href="#sl" x="945" y="1096"/><use href="#sr" x="970" y="1096"/><use href="#sd" x="827.7" y="1112.7"/><use href="#sd" x="956.7" y="1112.7"/><use href="#bv" x="827.7" y="1152"/><use href="#bv" x="956.7" y="1153.5"/><use href="#su" x="827.7" y="1201.7"/><use href="#sr" x="844" y="1216.7"/><use href="#bh" x="890" y="1216.7"/><use href="#sl" x="940.7" y="1216.7"/><use href="#su" x="956.7" y="1204.3"/><use href="#sd" x="956.7" y="1230"/><use href="#su" x="956.7" y="1271.7"/><use href="#sr" x="973.3" y="1284"/><use href="#sd" x="956.7" y="1297.3"/><polygon points="956.7,1300.7 948.7,1315 964.7,1315"/>
<path class="t" d="M827.7,1096V1110M956.7,1096V1110M956.7,1204V1228M940.7,1216.7H956.7M956.7,1271.7V1296.7M956.7,1284H973.3"/><path stroke-width="2.6" d="M815,1096H840M945,1096H970"/><path class="e" d="M827.7,1201.7Q830,1214 844,1216.7"/>
<path class="ld" d="M899,1068.3H854.3L834,1088.3"/><path class="ld" d="M1005.7,1074.3H961.7L945.7,1086.7"/><path class="ld" d="M774,1225H819L826.7,1213.3"/><path class="ld" d="M1020.7,1210H976L960,1216.7"/><path class="ld" d="M890,1298H934L952.7,1282.7"/><path class="ld" d="M899,1328H933.3L948.3,1317"/></g>
<g class="tr"><text x="854.3" y="1067.3" textLength="44.7" lengthAdjust="spacingAndGlyphs">R.S.N.</text><text x="961.7" y="1073.3" textLength="44" lengthAdjust="spacingAndGlyphs">R.S.N.</text>
<text x="776.7" y="1145" textLength="31.6" lengthAdjust="spacingAndGlyphs">CPVC</text><text x="777.3" y="1159" textLength="30.7" lengthAdjust="spacingAndGlyphs">Ø63</text><text x="764" y="1176" textLength="62.7" lengthAdjust="spacingAndGlyphs">L:94,00m.</text>
<text x="977.3" y="1140.7" textLength="32" lengthAdjust="spacingAndGlyphs">CPVC</text><text x="977.7" y="1156" textLength="30.6" lengthAdjust="spacingAndGlyphs">Ø63</text><text x="965" y="1171.7" textLength="62.3" lengthAdjust="spacingAndGlyphs">L:94,00m.</text>
<text x="774" y="1221.7" textLength="44.3" lengthAdjust="spacingAndGlyphs">C 90°</text><text x="976" y="1209" textLength="44.7" lengthAdjust="spacingAndGlyphs">R.S.N.</text>
<text x="876.7" y="1241" textLength="31.6" lengthAdjust="spacingAndGlyphs">CPVC</text><text x="877.7" y="1256.7" textLength="30" lengthAdjust="spacingAndGlyphs">Ø63</text><text x="860.7" y="1272.3" textLength="70" lengthAdjust="spacingAndGlyphs">L:107,00m.</text>
<text x="982.3" y="1238.3" textLength="31.7" lengthAdjust="spacingAndGlyphs">CPVC</text><text x="983.3" y="1254" textLength="30" lengthAdjust="spacingAndGlyphs">Ø63</text><text x="971" y="1269.3" textLength="61.7" lengthAdjust="spacingAndGlyphs">L:10,00m.</text>
<text x="890" y="1296.7" textLength="44" lengthAdjust="spacingAndGlyphs">R.S.N.</text><text x="899" y="1326.7" textLength="34.3" lengthAdjust="spacingAndGlyphs">RED.</text></g>
<g class="tk"><text x="720" y="1029" textLength="31.7" lengthAdjust="spacingAndGlyphs">CPVC</text><text x="721" y="1045" textLength="30.7" lengthAdjust="spacingAndGlyphs">Ø63</text><text x="718.3" y="1060" textLength="41" lengthAdjust="spacingAndGlyphs">Exist.</text>
<text x="674" y="1088.3" textLength="31.7" lengthAdjust="spacingAndGlyphs">CPVC</text><text x="675" y="1103.3" textLength="30.7" lengthAdjust="spacingAndGlyphs">Ø63</text><text x="672.3" y="1119" textLength="40" lengthAdjust="spacingAndGlyphs">Exist.</text>
<text x="875.7" y="1086.7" textLength="32" lengthAdjust="spacingAndGlyphs">CPVC</text><text x="876.7" y="1102.3" textLength="30.6" lengthAdjust="spacingAndGlyphs">Ø63</text><text x="874.3" y="1117.7" textLength="40" lengthAdjust="spacingAndGlyphs">Exist.</text>
<text x="1030" y="1027.7" textLength="31.7" lengthAdjust="spacingAndGlyphs">CPVC</text><text x="1031" y="1043.3" textLength="30.7" lengthAdjust="spacingAndGlyphs">Ø63</text><text x="1029" y="1059" textLength="39.7" lengthAdjust="spacingAndGlyphs">Exist.</text>
<text x="1053.3" y="1089" textLength="31.7" lengthAdjust="spacingAndGlyphs">CPVC</text><text x="1054.3" y="1104" textLength="30.7" lengthAdjust="spacingAndGlyphs">Ø63</text><text x="1052" y="1120" textLength="40" lengthAdjust="spacingAndGlyphs">Exist.</text>
<text x="1012.7" y="1286.7" textLength="31.6" lengthAdjust="spacingAndGlyphs">CPVC</text><text x="1013.3" y="1302.3" textLength="30.7" lengthAdjust="spacingAndGlyphs">Ø63</text><text x="1011.3" y="1317.7" textLength="40" lengthAdjust="spacingAndGlyphs">Exist.</text>
<text x="964" y="1327.7" textLength="40" lengthAdjust="spacingAndGlyphs">CPEAD</text><text x="967.7" y="1343.3" textLength="30.6" lengthAdjust="spacingAndGlyphs">Ø90</text><text x="965" y="1359" textLength="40.7" lengthAdjust="spacingAndGlyphs">Exist.</text>
<text class="q" x="1087.3" y="1167.3" textLength="219.7" lengthAdjust="spacingAndGlyphs">4–R.S.N. PVC JE Ø63 mm</text><text class="q" x="1087.3" y="1190.7" textLength="264.3" lengthAdjust="spacingAndGlyphs">1–CURVA 90° PVC JE Ø63 mm.</text><text class="q" x="1087.3" y="1213.3" textLength="238.7" lengthAdjust="spacingAndGlyphs">1–RED. PVC JE Ø90x63 mm</text></g>
</g>

<g id="obra-h2">
<text class="T tk" x="817" y="1390.7" textLength="89" lengthAdjust="spacingAndGlyphs">OBRA H2</text><path class="u" d="M816,1395H908"/>
<g class="k"><path d="M821.4,1427.7V1455M736,1579.3H762.6M957.2,1527.7V1556M976.3,1579.3H1004"/></g>
<g class="r"><path d="M821.4,1455V1494M821.4,1532V1555M774.6,1579.3H801.3M841.4,1579.3H926"/><path stroke-width="3.4" d="M817.8,1455V1468M825,1455V1468"/><use href="#vv" x="821.4" y="1513.3"/><use href="#su" x="821.4" y="1562.7"/><use href="#sl" x="809.4" y="1579.3"/><use href="#sr" x="833.8" y="1579.3"/><use href="#bh" x="880" y="1579.3"/><polygon points="926,1572 926,1586.6 939.4,1579.3"/><use href="#sl" x="944.7" y="1579.3"/><use href="#sr" x="969.6" y="1579.3"/><use href="#su" x="957.2" y="1562.7"/><use href="#c" x="768.6" y="1579.3"/>
<path class="t" d="M821.4,1562.7V1579.3M809.4,1579.3H833.8M957.2,1562.7V1579.3M944.7,1579.3H969.6"/>
<path class="ld" d="M883.7,1450.7H838.3L828,1463.3"/><path class="ld" d="M885,1552H840.5L828.5,1572.7"/><path class="ld" d="M893.5,1541.7H927.3L930.5,1571.7"/><path class="ld" d="M822.3,1609.3H779L767,1586"/><path class="ld" d="M1006.6,1612H962L950.5,1587.3"/></g>
<g class="d"><path class="dm" d="M796.9,1513V1579.3"/><path d="M792.4,1512.7H821.4"/></g>
<text class="dt" transform="translate(791.5,1572.7) rotate(-90)" x="0" y="0" textLength="51" lengthAdjust="spacingAndGlyphs">dist. 1,00m</text>
<g class="tr"><text x="838.3" y="1448.3" textLength="45.4" lengthAdjust="spacingAndGlyphs">ADAP.</text><text x="828.5" y="1523.3" textLength="27.5" lengthAdjust="spacingAndGlyphs">V.E.</text><text x="840.5" y="1551" textLength="44.5" lengthAdjust="spacingAndGlyphs">R.S.N.</text><text x="893.5" y="1540.7" textLength="33.8" lengthAdjust="spacingAndGlyphs">RED.</text><text x="779" y="1606.7" textLength="43.3" lengthAdjust="spacingAndGlyphs">ADAP.</text>
<text x="867.2" y="1603.3" textLength="32.1" lengthAdjust="spacingAndGlyphs">CPVC</text><text x="868" y="1619" textLength="30.4" lengthAdjust="spacingAndGlyphs">Ø90</text><text x="856" y="1635" textLength="62" lengthAdjust="spacingAndGlyphs">L:74,00m.</text><text x="962" y="1611" textLength="44.6" lengthAdjust="spacingAndGlyphs">R.S.N.</text></g>
<g class="tk"><text x="769.3" y="1431" textLength="40.1" lengthAdjust="spacingAndGlyphs">CPEAD</text><text x="774.2" y="1446.7" textLength="30.3" lengthAdjust="spacingAndGlyphs">Ø90</text><text x="770.6" y="1462.3" textLength="41" lengthAdjust="spacingAndGlyphs">Exist.</text>
<text x="963" y="1512.7" textLength="32" lengthAdjust="spacingAndGlyphs">CPVC</text><text x="963.9" y="1528.3" textLength="31.1" lengthAdjust="spacingAndGlyphs">Ø63</text><text x="961.2" y="1544" textLength="40.8" lengthAdjust="spacingAndGlyphs">Exist.</text>
<text x="693.6" y="1570" textLength="40.1" lengthAdjust="spacingAndGlyphs">CPEAD</text><text x="699" y="1585.7" textLength="30.2" lengthAdjust="spacingAndGlyphs">Ø90</text><text x="696.7" y="1601.3" textLength="40.1" lengthAdjust="spacingAndGlyphs">Exist.</text>
<text x="1012" y="1571" textLength="32.4" lengthAdjust="spacingAndGlyphs">CPVC</text><text x="1013.7" y="1586.7" textLength="30.3" lengthAdjust="spacingAndGlyphs">Ø63</text><text x="1010.6" y="1602.3" textLength="40.4" lengthAdjust="spacingAndGlyphs">Exist.</text>
<text class="q" x="1075.2" y="1457.7" textLength="214.8" lengthAdjust="spacingAndGlyphs">2– ADAP. PEAD Ø90 mm.</text><text class="q" x="1075.2" y="1479.7" textLength="220.4" lengthAdjust="spacingAndGlyphs">2– CUPLA PEAD Ø90 mm.</text><text class="q" x="1075.2" y="1501" textLength="292.8" lengthAdjust="spacingAndGlyphs">2– ADAP. P/PEAD FF Ø80–90 mm</text><text class="q" x="1075.2" y="1522.7" textLength="255.8" lengthAdjust="spacingAndGlyphs">2– ADAP. P/PVC FF Ø80 mm.</text><text class="q" x="1075.2" y="1545.7" textLength="246.2" lengthAdjust="spacingAndGlyphs">1– V.E. TIPO EURO Ø80 mm.</text><text class="q" x="1075.2" y="1570" textLength="172.3" lengthAdjust="spacingAndGlyphs">1– CAJA Br. P/ V.E.</text><text class="q" x="1075.2" y="1595.3" textLength="220.4" lengthAdjust="spacingAndGlyphs">1–R.S.N. PVC JE Ø90 mm</text><text class="q" x="1075.2" y="1616.7" textLength="238.2" lengthAdjust="spacingAndGlyphs">1–RED. PVC JE Ø90x63 mm</text><text class="q" x="1075.2" y="1638.3" textLength="220.4" lengthAdjust="spacingAndGlyphs">1–R.S.N. PVC JE Ø63 mm</text></g>
</g>

<g id="obra-h3">
<text class="T tk" x="836" y="1686.7" textLength="90" lengthAdjust="spacingAndGlyphs">OBRA H3</text><path class="u" d="M835.7,1691.7H927.5"/>
<g class="k"><path d="M840,1757.7H869M908,1757.7H936.3M955.8,1727V1733"/><use href="#sl" x="944.7" y="1757.7"/><use href="#sr" x="968.3" y="1757.7"/><use href="#su" x="955.8" y="1740.7"/><use href="#sd" x="955.8" y="1775.7"/><path class="t" d="M955.8,1740.7V1775M944.7,1757.7H968.3"/><path class="lk" d="M1027,1730H982.6L963.9,1749.3"/></g>
<g class="r"><use href="#vh" x="888.2" y="1757.7"/></g>
<g class="d"><path class="dm" d="M888.2,1731.7H955.8"/><path d="M888.2,1726.7V1757M955.8,1726.7V1740"/></g>
<text class="dt" x="896.2" y="1729" textLength="50.8" lengthAdjust="spacingAndGlyphs">dist. 1,00m</text>
<g class="tr"><text x="875.7" y="1781" textLength="28" lengthAdjust="spacingAndGlyphs">V.E.</text></g>
<g class="tk"><text x="982.6" y="1729" textLength="44.4" lengthAdjust="spacingAndGlyphs">R.D.N.</text>
<text x="826.7" y="1777.7" textLength="32.5" lengthAdjust="spacingAndGlyphs">CPVC</text><text x="825.8" y="1793.3" textLength="31.2" lengthAdjust="spacingAndGlyphs">Ø63</text><text x="824.5" y="1809" textLength="40.1" lengthAdjust="spacingAndGlyphs">Exist.</text>
<text x="908.2" y="1780" textLength="32.5" lengthAdjust="spacingAndGlyphs">CPVC</text><text x="907.3" y="1795.7" textLength="31.2" lengthAdjust="spacingAndGlyphs">Ø63</text><text x="904.6" y="1811" textLength="40.4" lengthAdjust="spacingAndGlyphs">Exist.</text>
<text class="q" x="1056" y="1745.7" textLength="244.9" lengthAdjust="spacingAndGlyphs">1– V.E. TIPO EURO Ø63 mm.</text><text class="q" x="1056" y="1770.7" textLength="171.4" lengthAdjust="spacingAndGlyphs">1– CAJA Br. P/ V.E.</text></g>
</g>
</svg>
